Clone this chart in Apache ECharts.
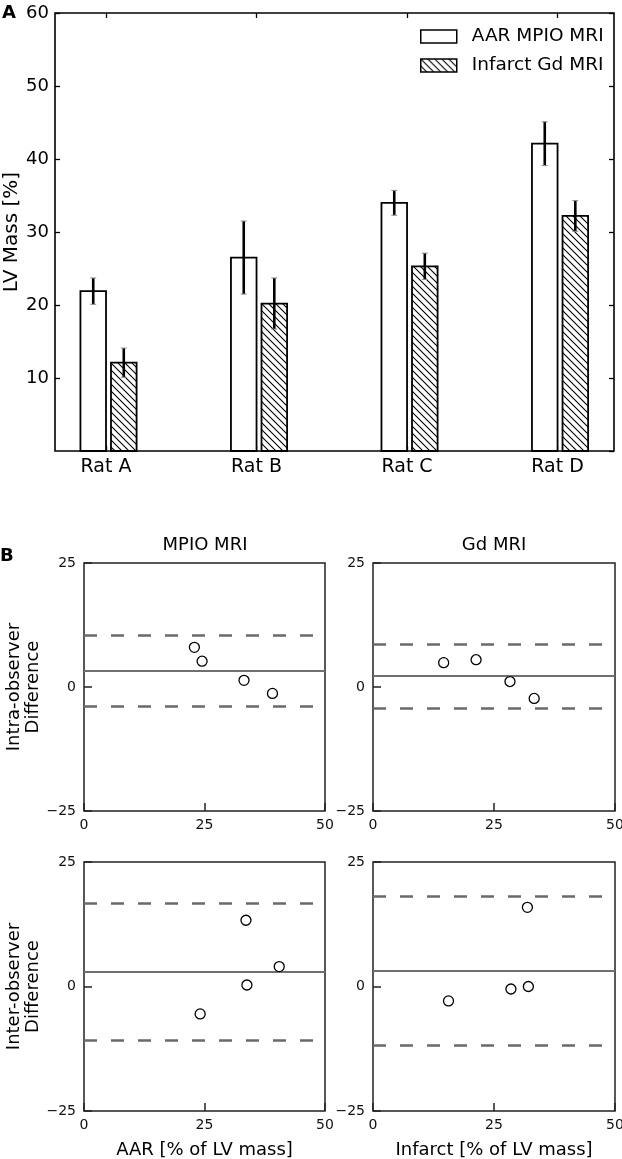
<!DOCTYPE html>
<html>
<head>
<meta charset="utf-8">
<script src="https://cdn.jsdelivr.net/npm/echarts@6/dist/echarts.min.js"></script>
<style>
html,body{margin:0;padding:0;background:#fff;}
#c{width:622px;height:1159px;}
</style>
</head>
<body>
<div id="c"></div>
<script>
// ---- Panel A data ----
const categories = ['Rat A', 'Rat B', 'Rat C', 'Rat D'];
const aarMean = [21.9, 26.5, 34.0, 42.1];
const aarErr = [1.8, 5.0, 1.7, 3.0];
const infMean = [12.1, 20.2, 25.3, 32.2];
const infErr = [2.0, 3.5, 1.8, 2.1];
const seriesNames = ['AAR MPIO MRI', 'Infarct Gd MRI'];

// ---- Panel B data ----
const intraMpioX = [22.9, 24.5, 33.2, 39.1];
const intraMpioY = [8.0, 5.2, 1.35, -1.3];
const intraMpioLines = [3.3, 10.4, -3.8];   // mean, upper LoA, lower LoA
const intraGdX = [14.6, 21.3, 28.3, 33.3];
const intraGdY = [4.9, 5.5, 1.1, -2.3];
const intraGdLines = [2.2, 8.6, -4.2];
const interMpioX = [33.6, 40.5, 33.8, 24.1];
const interMpioY = [13.3, 4.0, 0.3, -5.5];
const interMpioLines = [2.9, 16.7, -10.7];
const interGdX = [31.9, 32.1, 28.5, 15.6];
const interGdY = [15.9, 0.0, -0.5, -2.9];
const interGdLines = [3.2, 18.1, -11.8];
const panelTitles = ['MPIO MRI', 'Gd MRI'];
const rowNames = ['Intra-observer\nDifference', 'Inter-observer\nDifference'];
const colXNames = ['AAR [% of LV mass]', 'Infarct [% of LV mass]'];

const FONT = 'DejaVu Sans';

// hatch pattern
function makeHatch() {
  const s = 7;
  const cv = document.createElement('canvas');
  cv.width = s; cv.height = s;
  const ctx = cv.getContext('2d');
  ctx.fillStyle = '#fff';
  ctx.fillRect(0, 0, s, s);
  ctx.strokeStyle = '#000';
  ctx.lineWidth = 1.1;
  ctx.beginPath();
  ctx.moveTo(-1, -1); ctx.lineTo(s + 1, s + 1);
  ctx.moveTo(-1, s - 1); ctx.lineTo(1, s + 1);
  ctx.moveTo(s - 1, -1); ctx.lineTo(s + 1, 1);
  ctx.stroke();
  return { image: cv, repeat: 'repeat' };
}
const hatch = makeHatch();

function barRender(off0, off1, fill) {
  return function (params, api) {
    const i = api.value(0), v = api.value(1);
    const p0 = api.coord([i + off0, 0]);
    const p1 = api.coord([i + off1, v]);
    return {
      type: 'rect',
      shape: { x: p0[0], y: p1[1], width: p1[0] - p0[0], height: p0[1] - p1[1] },
      style: { fill: fill, stroke: '#000', lineWidth: 1.8 }
    };
  };
}
function errRender(off) {
  return function (params, api) {
    const i = api.value(0), m = api.value(1), e = api.value(2);
    const top = api.coord([i + off, m + e]);
    const bot = api.coord([i + off, m - e]);
    return {
      type: 'group',
      children: [
        { type: 'line', shape: { x1: top[0], y1: top[1], x2: bot[0], y2: bot[1] }, style: { stroke: '#000', lineWidth: 2.6 } },
        { type: 'line', shape: { x1: top[0] - 3, y1: top[1], x2: top[0] + 3, y2: top[1] }, style: { stroke: '#888', lineWidth: 1 } },
        { type: 'line', shape: { x1: bot[0] - 3, y1: bot[1], x2: bot[0] + 3, y2: bot[1] }, style: { stroke: '#888', lineWidth: 1 } }
      ]
    };
  };
}

const catIdx = categories.map((c, i) => i);
const noLine = { show: false, onZero: false };

const option = {
  animation: false,
  backgroundColor: '#fff',
  textStyle: { fontFamily: FONT },
  title: [
    { text: 'A', left: 2, top: 4, padding: 0, textStyle: { fontSize: 18, fontWeight: 'bold', color: '#000', fontFamily: FONT } },
    { text: 'B', left: 0, top: 547, padding: 0, textStyle: { fontSize: 18, fontWeight: 'bold', color: '#000', fontFamily: FONT } },
    { text: panelTitles[0], left: 205, top: 536, padding: 0, textAlign: 'center', textStyle: { fontSize: 18, fontWeight: 'normal', color: '#000', fontFamily: FONT } },
    { text: panelTitles[1], left: 494, top: 536, padding: 0, textAlign: 'center', textStyle: { fontSize: 18, fontWeight: 'normal', color: '#000', fontFamily: FONT } }
  ],
  legend: {
    data: seriesNames,
    orient: 'vertical',
    left: 420, top: 27, padding: 0,
    itemWidth: 36, itemHeight: 13, itemGap: 10,
    icon: 'rect',
    itemStyle: { borderColor: '#000', borderWidth: 1.5 },
    textStyle: { fontSize: 18.5, color: '#000', fontFamily: FONT, padding: [0, 0, 0, 10] }
  },
  grid: [
    { left: 55, right: 8, top: 13, height: 438, show: true, borderColor: '#000', borderWidth: 1.6, outerBoundsMode: 'none', containLabel: false },
    { left: 84, width: 241, top: 563, height: 248, show: true, borderColor: '#222', borderWidth: 1.5, outerBoundsMode: 'none', containLabel: false },
    { left: 373, width: 242, top: 563, height: 248, show: true, borderColor: '#222', borderWidth: 1.5, outerBoundsMode: 'none', containLabel: false },
    { left: 84, width: 241, top: 862, height: 249, show: true, borderColor: '#222', borderWidth: 1.5, outerBoundsMode: 'none', containLabel: false },
    { left: 373, width: 242, top: 862, height: 249, show: true, borderColor: '#222', borderWidth: 1.5, outerBoundsMode: 'none', containLabel: false }
  ],
  xAxis: [],
  yAxis: [],
  series: []
};

// Panel A axes
option.xAxis.push({
  gridIndex: 0, type: 'value', min: -0.339, max: 3.375, position: 'bottom',
  axisLine: noLine, splitLine: { show: false },
  axisTick: { inside: true, length: 5, customValues: catIdx, lineStyle: { color: '#000', width: 1.3 } },
  axisLabel: { customValues: catIdx, formatter: v => categories[Math.round(v)], fontSize: 19, color: '#000', margin: 7, fontFamily: FONT }
});
option.xAxis.push({
  gridIndex: 0, type: 'value', min: -0.339, max: 3.375, position: 'top',
  axisLine: noLine, splitLine: { show: false },
  axisTick: { inside: true, length: 5, customValues: catIdx, lineStyle: { color: '#000', width: 1.3 } },
  axisLabel: { show: false }
});
option.yAxis.push({
  gridIndex: 0, type: 'value', min: 0, max: 60, interval: 10, position: 'left',
  axisLine: noLine, splitLine: { show: false },
  axisTick: { inside: true, length: 5, lineStyle: { color: '#000', width: 1.3 } },
  axisLabel: { showMinLabel: false, fontSize: 18, color: '#000', margin: 6, fontFamily: FONT },
  name: 'LV Mass [%]', nameLocation: 'middle', nameGap: 33, nameRotate: 90, nameMoveOverlap: false,
  nameTextStyle: { fontSize: 20, color: '#000', fontFamily: FONT }
});
option.yAxis.push({
  gridIndex: 0, type: 'value', min: 0, max: 60, interval: 10, position: 'right',
  axisLine: noLine, splitLine: { show: false },
  axisTick: { inside: true, length: 5, lineStyle: { color: '#000', width: 1.3 } },
  axisLabel: { show: false }
});

option.series.push({
  type: 'custom', name: seriesNames[0], xAxisIndex: 0, yAxisIndex: 0,
  itemStyle: { color: '#fff', borderColor: '#000', borderWidth: 1.5 },
  renderItem: barRender(-0.17, 0, '#fff'),
  data: catIdx.map(i => [i, aarMean[i]]), z: 2
});
option.series.push({
  type: 'custom', name: seriesNames[1], xAxisIndex: 0, yAxisIndex: 0,
  itemStyle: { color: hatch, borderColor: '#000', borderWidth: 1.5 },
  renderItem: barRender(0.033, 0.203, hatch),
  data: catIdx.map(i => [i, infMean[i]]), z: 2
});
option.series.push({
  type: 'custom', xAxisIndex: 0, yAxisIndex: 0, renderItem: errRender(-0.085),
  data: catIdx.map(i => [i, aarMean[i], aarErr[i]]), z: 3
});
option.series.push({
  type: 'custom', xAxisIndex: 0, yAxisIndex: 0, renderItem: errRender(0.118),
  data: catIdx.map(i => [i, infMean[i], infErr[i]]), z: 3
});

// Panel B
const panels = [
  { xs: intraMpioX, ys: intraMpioY, lines: intraMpioLines, row: 0, col: 0 },
  { xs: intraGdX, ys: intraGdY, lines: intraGdLines, row: 0, col: 1 },
  { xs: interMpioX, ys: interMpioY, lines: interMpioLines, row: 1, col: 0 },
  { xs: interGdX, ys: interGdY, lines: interGdLines, row: 1, col: 1 }
];
panels.forEach((p, k) => {
  const g = k + 1;
  option.xAxis.push({
    gridIndex: g, type: 'value', min: 0, max: 50, interval: 25, position: 'bottom',
    axisLine: noLine, splitLine: { show: false },
    axisTick: { show: true, inside: true, length: 8, lineStyle: { color: '#222', width: 1.5 } },
    axisLabel: { fontSize: 14, color: '#111', margin: 7, fontFamily: FONT },
    name: p.row === 1 ? colXNames[p.col] : '', nameLocation: 'middle', nameGap: 30, nameMoveOverlap: false,
    nameTextStyle: { fontSize: 18, color: '#000', fontFamily: FONT }
  });
  option.yAxis.push({
    gridIndex: g, type: 'value', min: -25, max: 25, interval: 25, position: 'left',
    axisLine: noLine, splitLine: { show: false },
    axisTick: { show: true, inside: true, length: 8, lineStyle: { color: '#222', width: 1.5 } },
    axisLabel: { fontSize: 14, color: '#111', margin: 8, fontFamily: FONT,
      formatter: v => v < 0 ? '\u2212' + Math.abs(v) : String(v) },
    name: p.col === 0 ? rowNames[p.row] : '', nameLocation: 'middle', nameGap: 41, nameRotate: 90, nameMoveOverlap: false,
    nameTextStyle: { fontSize: 18, color: '#000', fontFamily: FONT, lineHeight: 19 }
  });
  option.series.push({
    type: 'scatter', xAxisIndex: g + 1, yAxisIndex: g + 1,
    symbol: 'circle', symbolSize: 10,
    itemStyle: { color: '#fff', borderColor: '#000', borderWidth: 1.3, opacity: 1 },
    data: p.xs.map((x, i) => [x, p.ys[i]]), z: 5,
    markLine: {
      silent: true, symbol: 'none', label: { show: false }, animation: false,
      data: [
        { yAxis: p.lines[0], lineStyle: { type: 'solid', color: '#707070', width: 2 } },
        { yAxis: p.lines[1], lineStyle: { type: [13, 14], color: '#6a6a6a', width: 2.6 } },
        { yAxis: p.lines[2], lineStyle: { type: [13, 14], color: '#6a6a6a', width: 2.6 } }
      ]
    }
  });
});

const chart = echarts.init(document.getElementById('c'), null, { renderer: 'canvas' });
chart.setOption(option);
</script>
</body>
</html>
